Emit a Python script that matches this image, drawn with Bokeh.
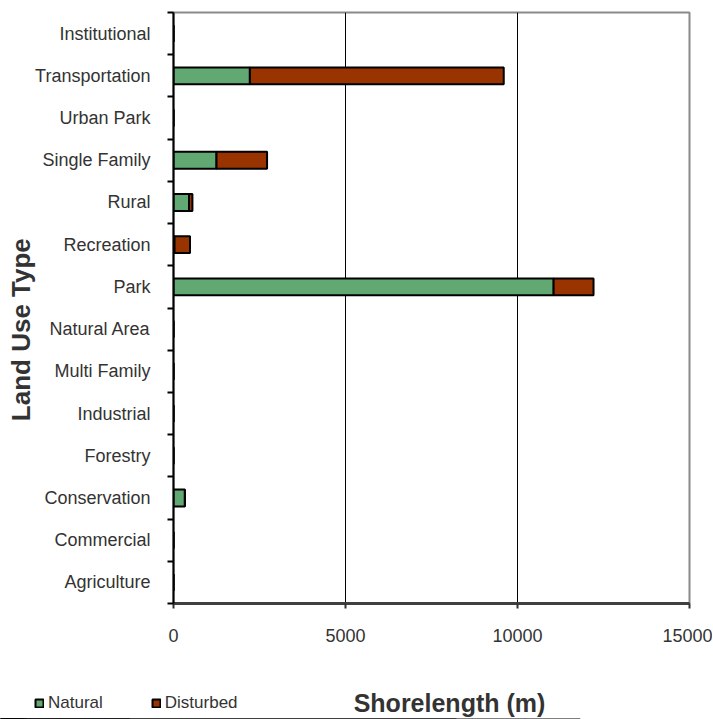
from bokeh.plotting import figure
from bokeh.models import (ColumnDataSource, Range1d, FixedTicker, LinearAxis, Grid,
                          CustomJSTickFormatter, Legend, LegendItem, Label)
from bokeh.layouts import column
from bokeh.embed import file_html
from bokeh.resources import INLINE

categories = ["Agriculture", "Commercial", "Conservation", "Forestry", "Industrial",
              "Multi Family", "Natural Area", "Park", "Recreation", "Rural",
              "Single Family", "Urban Park", "Transportation", "Institutional"]
natural = [0, 0, 330, 0, 0, 0, 0, 11050, 30, 450, 1250, 0, 2220, 0]
disturbed = [0, 0, 0, 0, 0, 0, 0, 1160, 450, 100, 1470, 0, 7380, 0]
series = ["Natural", "Disturbed"]
x_ticks = [0, 5000, 10000, 15000]

GREEN = "#62A873"
RED = "#993300"
TXT = "#333333"
FONT = "Liberation Sans"
NB = "\u00a0"

source = ColumnDataSource(dict(
    y=[i + 0.5 for i in range(len(categories))],
    natural=natural,
    disturbed=disturbed,
))

p = figure(width=712, height=655, output_backend="svg", toolbar_location=None,
           x_range=Range1d(0, 15000), y_range=Range1d(0, len(categories)),
           min_border_left=173, min_border_right=23, min_border_top=12,
           min_border_bottom=52, x_axis_type=None, y_axis_type=None)
p.background_fill_color = "white"
p.border_fill_color = "white"
p.outline_line_color = "#8a8a8a"
p.outline_line_width = 2

renderers = p.hbar_stack(["natural", "disturbed"], y="y", height=0.4,
                         color=[GREEN, RED], line_color="black", line_width=2,
                         source=source)

# x axis
xaxis = LinearAxis(ticker=FixedTicker(ticks=x_ticks))
xaxis.major_label_text_font = FONT
xaxis.major_label_text_font_size = "18px"
xaxis.major_label_text_color = TXT
xaxis.major_label_standoff = 20
xaxis.axis_line_color = "#404040"
xaxis.axis_line_width = 3
xaxis.major_tick_line_color = TXT
xaxis.major_tick_line_width = 2
xaxis.major_tick_out = 5
xaxis.major_tick_in = 0
xaxis.minor_tick_line_color = None
p.add_layout(xaxis, "below")

# y axis: labels at category centres, ticks at category boundaries
yaxis = LinearAxis(ticker=FixedTicker(ticks=[i + 0.5 for i in range(len(categories))],
                                      minor_ticks=list(range(len(categories) + 1))),
                   formatter=CustomJSTickFormatter(args=dict(labels=categories),
                                                   code="return labels[Math.floor(tick)]"))
yaxis.axis_label = "Land Use Type" + NB * 6
yaxis.axis_label_text_font = FONT
yaxis.axis_label_text_font_style = "bold"
yaxis.axis_label_text_font_size = "26px"
yaxis.axis_label_text_color = TXT
yaxis.axis_label_standoff = -4
yaxis.major_label_text_font = FONT
yaxis.major_label_text_font_size = "18px"
yaxis.major_label_text_color = TXT
yaxis.major_label_standoff = 17
yaxis.axis_line_color = "black"
yaxis.axis_line_width = 2
yaxis.major_tick_line_color = None
yaxis.major_tick_out = 0
yaxis.major_tick_in = 0
yaxis.minor_tick_line_color = "black"
yaxis.minor_tick_line_width = 2
yaxis.minor_tick_out = 6
yaxis.minor_tick_in = 0
p.add_layout(yaxis, "left")

p.add_layout(Grid(dimension=0, ticker=xaxis.ticker, grid_line_color="black",
                  grid_line_width=1))

# bottom strip: legend and x-axis title
p2 = figure(width=712, height=64, output_backend="svg", toolbar_location=None,
            x_range=Range1d(0, 15000), y_range=Range1d(100, 101),
            min_border_left=0, min_border_right=0, min_border_top=0,
            min_border_bottom=0, x_axis_type=None, y_axis_type=None)
p2.outline_line_color = None
p2.grid.visible = False
for fig in (p, p2):
    try:
        fig.frame_align = False
    except Exception:
        pass

# legend swatches come from the same stacked data (out of view in this strip)
swatches = p2.hbar_stack(["natural", "disturbed"], y="y", height=0.4,
                         color=[GREEN, RED], line_color="black", line_width=2,
                         source=source)

legend = Legend(items=[LegendItem(label=series[0], renderers=[swatches[0]]),
                       LegendItem(label=series[1], renderers=[swatches[1]])],
                orientation="horizontal", location=(34, 6))
legend.background_fill_alpha = 0
legend.border_line_color = None
legend.padding = 0
legend.margin = 0
legend.spacing = 48
legend.label_standoff = 4
legend.glyph_width = 10
legend.glyph_height = 10
legend.label_text_font = FONT
legend.label_text_font_size = "17px"
legend.label_text_color = TXT
p2.add_layout(legend, "center")

p2.add_layout(Label(x=449, y=17, x_units="screen", y_units="screen",
                    text="Shorelength (m)", text_align="center",
                    text_baseline="middle", text_font=FONT,
                    text_font_style="bold", text_font_size="25px",
                    text_color=TXT))

layout = column(p, p2, spacing=0)
open("out.html", "w").write(file_html(layout, INLINE))
